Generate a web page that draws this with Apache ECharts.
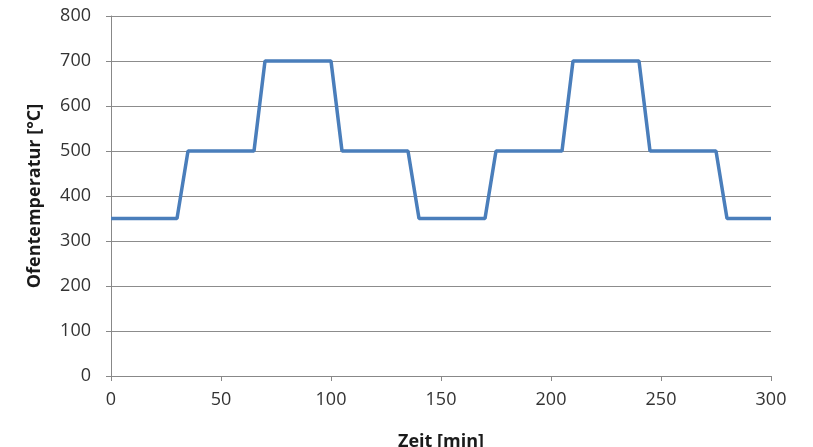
<!DOCTYPE html>
<html>
<head>
<meta charset="utf-8">
<script src="https://cdn.jsdelivr.net/npm/echarts@6/dist/echarts.min.js"></script>
<style>
  html, body { margin: 0; padding: 0; background: #fff; }
  #chart { width: 813px; height: 447px; }
</style>
</head>
<body>
<div id="chart"></div>
<script>
// Oven temperature program: time in minutes, temperature in °C
const timeMin = [0, 30, 35, 65, 70, 100, 105, 135, 140, 170, 175, 205, 210, 240, 245, 275, 280, 300];
const tempC   = [350, 350, 500, 500, 700, 700, 500, 500, 350, 350, 500, 500, 700, 700, 500, 500, 350, 350];

const xTicks = { min: 0, max: 300, interval: 50 };
const yTicks = { min: 0, max: 800, interval: 100 };

const points = timeMin.map((t, i) => [t, tempC[i]]);

const fontFamily = '"Open Sans", "Liberation Sans", sans-serif';
const chart = echarts.init(document.getElementById('chart'));
chart.setOption({
  animation: false,
  grid: { left: 111, right: 42, top: 16, bottom: 71, outerBoundsMode: 'none', containLabel: false },
  xAxis: {
    type: 'value',
    min: xTicks.min, max: xTicks.max, interval: xTicks.interval,
    name: 'Zeit [min]',
    nameLocation: 'middle',
    nameGap: 57,
    nameTextStyle: { fontFamily, fontSize: 18, fontWeight: 'bold', color: '#1a1a1a' },
    axisLine: { show: true, lineStyle: { color: '#888', width: 1 } },
    axisTick: { show: true, length: 5, lineStyle: { color: '#888' } },
    axisLabel: { fontFamily, fontSize: 18, color: '#333', margin: 15 },
    splitLine: { show: false }
  },
  yAxis: {
    type: 'value',
    min: yTicks.min, max: yTicks.max, interval: yTicks.interval,
    name: 'Ofentemperatur [°C]',
    nameLocation: 'middle',
    nameGap: 67,
    nameTextStyle: { fontFamily, fontSize: 18, fontWeight: 'bold', color: '#1a1a1a' },
    axisLine: { show: true, lineStyle: { color: '#888', width: 1 } },
    axisTick: { show: true, length: 5, lineStyle: { color: '#888' } },
    axisLabel: { fontFamily, fontSize: 18, color: '#333', margin: 20 },
    splitLine: { show: true, lineStyle: { color: '#8c8c8c', width: 1 } }
  },
  series: [{
    type: 'line',
    data: points,
    showSymbol: false,
    lineStyle: { color: '#4a7ebb', width: 3.5 },
    itemStyle: { color: '#4a7ebb' }
  }]
});
</script>
</body>
</html>
